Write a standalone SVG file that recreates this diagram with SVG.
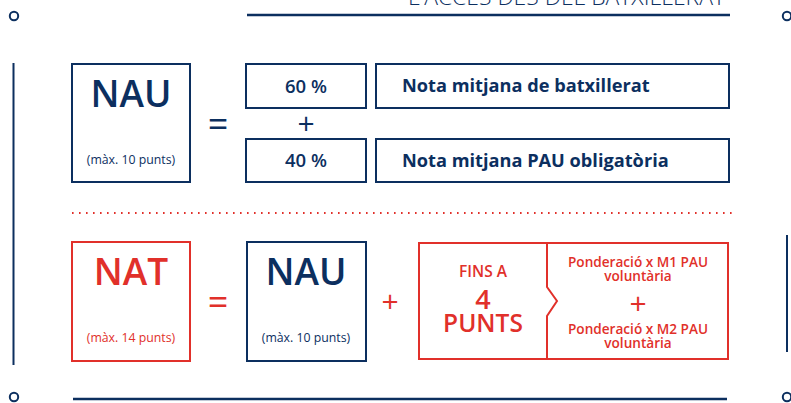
<svg xmlns="http://www.w3.org/2000/svg" width="791" height="403" viewBox="0 0 791 403">
<style>
.nv{fill:none;stroke:#0c2f5f;stroke-width:2}
.rd{fill:none;stroke:#e1302a;stroke-width:2}
.t{font-family:"Open Sans","Liberation Sans",sans-serif;text-anchor:middle}
.tn{fill:#0c2f5f}
.tr{fill:#e1302a}
.big{font-size:37px;font-weight:600}
.sm{font-size:12.3px;font-weight:500}
.op{font-size:36px;font-weight:400}
.pl{font-size:30px;font-weight:400}
.pct{font-size:18.5px;font-weight:600}
.note{font-size:18.2px;font-weight:700;text-anchor:start}
.pond{font-size:13.6px;font-weight:600}
</style>
<rect width="791" height="403" fill="#ffffff"/>
<g id="frame">
<text x="725" y="5" font-family="'Open Sans','Liberation Sans',sans-serif" font-size="22" font-weight="300" fill="#0c2f5f" text-anchor="end" textLength="317" lengthAdjust="spacingAndGlyphs">L'ACCÉS DES DEL BATXILLERAT</text>
<line x1="247" y1="15" x2="730" y2="15" stroke="#0c2f5f" stroke-width="2.5"/>
<line x1="73" y1="399" x2="727" y2="399" stroke="#0c2f5f" stroke-width="2.5"/>
<line x1="13.5" y1="63" x2="13.5" y2="365" stroke="#0c2f5f" stroke-width="2"/>
<line x1="787" y1="235" x2="787" y2="352" stroke="#0c2f5f" stroke-width="2"/>
<circle cx="14" cy="16" r="4.2" class="nv"/>
<circle cx="787" cy="16" r="4.2" class="nv"/>
<circle cx="14" cy="397" r="4.2" class="nv"/>
<circle cx="787" cy="397" r="4.2" class="nv"/>
</g>
<g id="nau1">
<rect x="72" y="64" width="118" height="118" class="nv"/>
<text x="131" y="107" class="t tn big">NAU</text>
<text x="131" y="164" class="t tn sm">(màx. 10 punts)</text>
</g>
<g id="eq1"><text x="218" y="137" class="t tn op">=</text></g>
<g id="p60">
<rect x="246" y="64" width="120" height="44" class="nv"/>
<text x="306" y="93" class="t tn pct">60 %</text>
</g>
<g id="plus1"><text x="306" y="134" class="t tn pl">+</text></g>
<g id="p40">
<rect x="246" y="139" width="120" height="43" class="nv"/>
<text x="306" y="167" class="t tn pct">40 %</text>
</g>
<g id="nota1">
<rect x="376" y="64" width="353" height="44" class="nv"/>
<text x="402" y="92" class="t tn note">Nota mitjana de batxillerat</text>
</g>
<g id="nota2">
<rect x="376" y="139" width="353" height="43" class="nv"/>
<text x="402" y="167" class="t tn note">Nota mitjana PAU obligatòria</text>
</g>
<g id="separator">
<line x1="72" y1="213" x2="732" y2="213" stroke="#e1302a" stroke-width="2" stroke-dasharray="1.6 5.4"/>
</g>
<g id="nat">
<rect x="72" y="242" width="118" height="119" class="rd"/>
<text x="131" y="285" class="t tr big">NAT</text>
<text x="131" y="342" class="t tr sm">(màx. 14 punts)</text>
</g>
<g id="eq2"><text x="218" y="315" class="t tr op">=</text></g>
<g id="nau2">
<rect x="247" y="242" width="119" height="119" class="nv"/>
<text x="306" y="285" class="t tn big">NAU</text>
<text x="306" y="342" class="t tn sm">(màx. 10 punts)</text>
</g>
<g id="plus2"><text x="390" y="312" class="t tr pl">+</text></g>
<g id="fins">
<rect x="419" y="243" width="309" height="116" class="rd"/>
<polyline points="547,243 547,287 557,301 547,316 547,359" class="rd"/>
<text x="483" y="277" class="t tr" font-size="15.5" font-weight="600">FINS A</text>
<text x="483" y="309" class="t tr" font-size="27" font-weight="600">4</text>
<text x="483" y="332" class="t tr" font-size="24.5" font-weight="600">PUNTS</text>
<text x="638" y="267" class="t tr pond">Ponderació x M1 PAU</text>
<text x="638" y="281" class="t tr pond">voluntària</text>
<text x="638" y="314" class="t tr pl">+</text>
<text x="638" y="334" class="t tr pond">Ponderació x M2 PAU</text>
<text x="638" y="348" class="t tr pond">voluntària</text>
</g>
</svg>
